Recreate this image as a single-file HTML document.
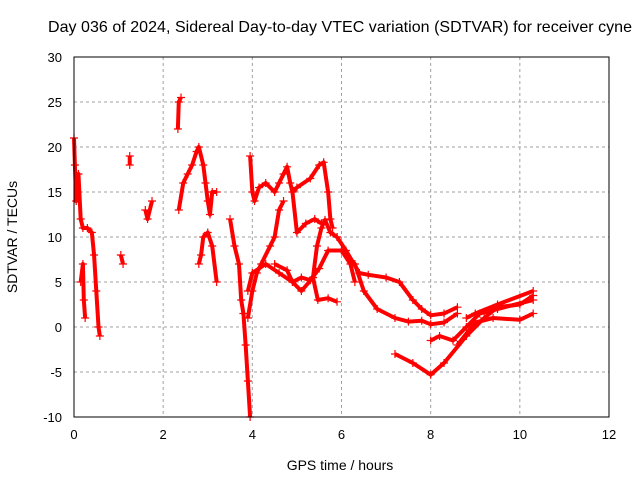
<!DOCTYPE html>
<html><head><meta charset="utf-8"><style>
body{margin:0;background:#fff}
svg text{font-family:"Liberation Sans",sans-serif;fill:#000}
</style></head><body>
<svg id="c" width="640" height="480">
<text x="340" y="32" font-size="16" text-anchor="middle" textLength="584">Day 036 of 2024, Sidereal Day-to-day VTEC variation (SDTVAR) for receiver cyne</text>
<text x="340" y="470" font-size="14" text-anchor="middle">GPS time / hours</text>
<text transform="translate(17,237) rotate(-90)" font-size="14" text-anchor="middle">SDTVAR / TECUs</text>
<g id="grid"></g><g id="marks"></g>
<rect x="74" y="57" width="535" height="360" fill="none" stroke="#000"/>
</svg>
<script>
const xTicks=[0,2,4,6,8,10,12];
const yTicks=[-10,-5,0,5,10,15,20,25,30];
const tracks=[
 {h:[0,0.02,0.05,0.08,0.1,0.15,0.2,0.3,0.4,0.45,0.5,0.55,0.58],v:[21,18,14,15,17,12,11,11,10.5,8,4,0,-1]},
 {h:[0.15,0.2,0.22,0.25],v:[5,7,3,1]},
 {h:[1.05,1.1],v:[8,7]},
 {h:[1.25,1.25],v:[19,18]},
 {h:[1.6,1.65,1.75],v:[13,12,14]},
 {h:[2.33,2.35,2.4],v:[22,25,25.5]},
 {h:[2.35,2.45,2.55,2.65,2.75,2.8,2.9,2.95,3.0,3.05,3.1,3.2],v:[13,16,17,18,19.5,20,18,16,14,12.5,15,15]},
 {h:[2.8,2.85,2.9,3.0,3.1,3.2],v:[7,8,10,10.5,9,5]},
 {h:[3.5,3.6,3.7,3.75,3.8,3.85,3.9,3.95],v:[12,9,7,3,1.5,-2,-6,-10]},
 {h:[3.9,4.0,4.1,4.2,4.4,4.5,4.6,4.7],v:[1,4,6,7,9,10,13,14]},
 {h:[3.95,4.0,4.05,4.15,4.3,4.5,4.6,4.7,4.78,4.85,4.9,5.0,5.2,5.4,5.55],v:[19,15,14,15.5,16,15,16,17,17.8,16,15,10.5,11.5,12,11.5]},
 {h:[4.9,5.0,5.3,5.5,5.6,5.7,5.75,5.8],v:[15,15.5,16.5,18,18.3,15,12,11]},
 {h:[3.9,4.0,4.3,4.6,4.9,5.1,5.3,5.5,5.7,6.0,6.2,6.3],v:[4,6,7,6,5,5.5,5.2,6.5,8.5,8.5,7,5]},
 {h:[4.5,4.78,4.9,5.1,5.36,5.47,5.7,5.9],v:[7,6.3,5,4,5.5,3,3.2,2.8]},
 {h:[5.36,5.45,5.55,5.63,5.75,5.9],v:[5.5,9,11,11.9,10.5,10]},
 {h:[5.9,6.1,6.4,6.6,7.0,7.3,7.6,7.8,8.0,8.3,8.6],v:[10,8.5,6,5.8,5.5,5,3,2,1.3,1.5,2.2]},
 {h:[6.0,6.3,6.5,6.8,7.2,7.5,7.8,8.0,8.3,8.6],v:[8.5,7,4,2,1,0.6,0.7,0.3,0.5,1.5]},
 {h:[7.2,7.6,8.0,8.3,8.8,9.2,9.5,10.0,10.3],v:[-3,-4,-5.3,-4,-1,1,2.2,2.5,3.5]},
 {h:[8.0,8.2,8.5,8.8,9.1,9.5,10.3],v:[-1.5,-1,-1.5,0,1.5,2,3]},
 {h:[8.6,9.0,9.4,10.0,10.3],v:[-2,0.5,1,0.8,1.5]},
 {h:[8.8,9.0,9.5,10.3],v:[1,1.5,2.5,4]}
];
const X=h=>74+h*(535/12), Y=v=>327-v*9;
const NS='http://www.w3.org/2000/svg';
const g=document.getElementById('grid'), m=document.getElementById('marks'), svg=document.getElementById('c');
function mk(t,a,p){const e=document.createElementNS(NS,t);for(const k in a)e.setAttribute(k,a[k]);p.appendChild(e);return e;}
xTicks.forEach(t=>{
 if(t>0&&t<12){const l=mk('line',{x1:X(t),x2:X(t),y1:57,y2:417,stroke:'#a0a0a0','stroke-dasharray':'3,3'},g);
 
 }
 const tx=mk('text',{x:X(t),y:439,'font-size':13,'text-anchor':'middle'},svg);tx.textContent=t;
 
 
});
yTicks.forEach(t=>{
 if(t>-10&&t<30){const l=mk('line',{x1:74,x2:609,y1:Y(t),y2:Y(t),stroke:'#a0a0a0','stroke-dasharray':'3,3'},g);
 
 }
 const tx=mk('text',{x:62,y:Y(t)+5,'font-size':13,'text-anchor':'end'},svg);tx.textContent=t;
 
 
});
tracks.forEach(tr=>{
 const pts=tr.h.map((h,i)=>X(h)+','+Y(tr.v[i])).join(' ');
 const pl=mk('polyline',{points:pts,fill:'none',stroke:'#f00','stroke-width':4,'stroke-linejoin':'round'},m);
 
 
 tr.h.forEach((h,i)=>{
  const x=X(h),y=Y(tr.v[i]);
  const p=mk('path',{d:`M${x-4},${y}h8M${x},${y-4}v8`,stroke:'#f00','stroke-width':1.2},m);
  
  
 });
});
</script>
</body></html>
